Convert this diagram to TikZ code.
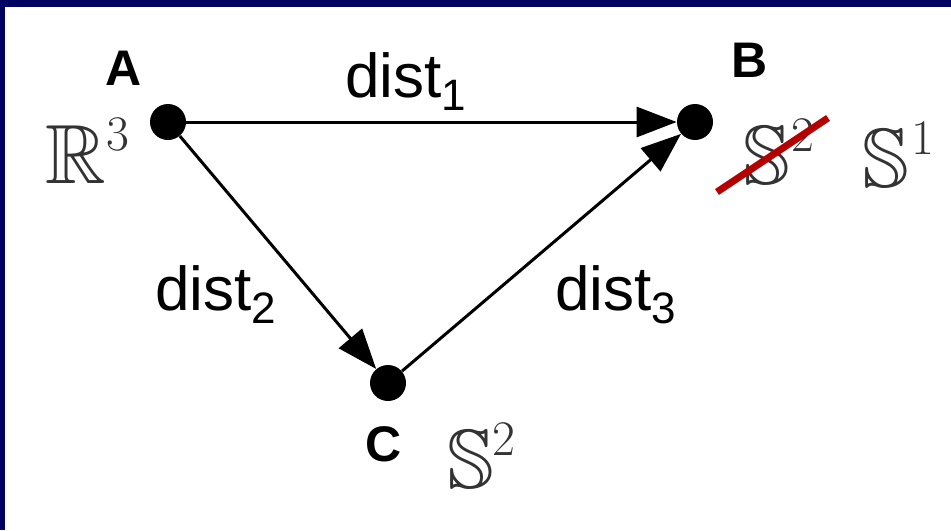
\documentclass[tikz,border=0pt]{standalone}
\usepackage[no-math]{fontspec}
\usepackage{amssymb}
\setmainfont{Liberation Sans}
\usetikzlibrary{arrows.meta}
\definecolor{framenavy}{RGB}{0,0,96}
\definecolor{strikered}{RGB}{180,0,0}
\newcommand{\distlbl}[1]{dist\raisebox{-6.5pt}{\fontsize{22}{24}\selectfont #1}}
\newcommand{\spacelbl}[3]{$\mathbb{#1}$\kern#3\raisebox{16.5pt}{\fontsize{33}{35}\selectfont$#2$}}
\begin{document}
\begin{tikzpicture}[
  x=0.5pt,
  y=-0.5pt,
  dot/.style={circle, fill=black, inner sep=0pt, minimum size=18pt},
  edge/.style={line width=1.5pt, -{Triangle[length=20pt,width=15pt]}},
  vname/.style={font=\fontsize{25}{27}\selectfont\bfseries, inner sep=0pt},
  dlbl/.style={font=\fontsize{31}{33}\selectfont, anchor=base west, inner sep=0pt},
  space/.style={font=\fontsize{42}{44}\selectfont, anchor=base west, inner sep=0pt, text=black!80},
  strike/.style={strikered, line width=3.5pt}
]
\useasboundingbox (0,0) rectangle (951,530);
\fill[white] (0,0) rectangle (951,530);
\fill[framenavy] (0,0) rectangle (951,7);
\fill[framenavy] (0,0) rectangle (5,530);

% points
\node[dot] (A) at (168,122) {};
\node[dot] (B) at (695,122) {};
\node[dot] (C) at (388,383) {};

\node[vname] (nameA) at (124,68) {A};
\node[vname] (nameB) at (750,60) {B};
\node[vname] (nameC) at (384,444) {C};

% spaces
\node[space] (spA) at (45,183) {\spacelbl{R}{3}{0pt}};
\node[space] (spB) at (743,184) {\spacelbl{S}{2}{0.5pt}};
\node[space] (spB1) at (862,187) {\spacelbl{S}{1}{1pt}};
\node[space] (spC) at (447,488) {\spacelbl{S}{2}{-1pt}};

\coordinate (s1) at (717,192);
\coordinate (s2) at (828,118);
\draw[strike] (s1) -- (s2);

% distances
\draw[edge] (A) -- (B);
\draw[edge] (A) -- (C);
\draw[edge] (C) -- (B);

\node[dlbl] (d1) at (345,97) {\distlbl{1}};
\node[dlbl] (d2) at (155,310) {\distlbl{2}};
\node[dlbl] (d3) at (555,310) {\distlbl{3}};
\end{tikzpicture}
\end{document}
